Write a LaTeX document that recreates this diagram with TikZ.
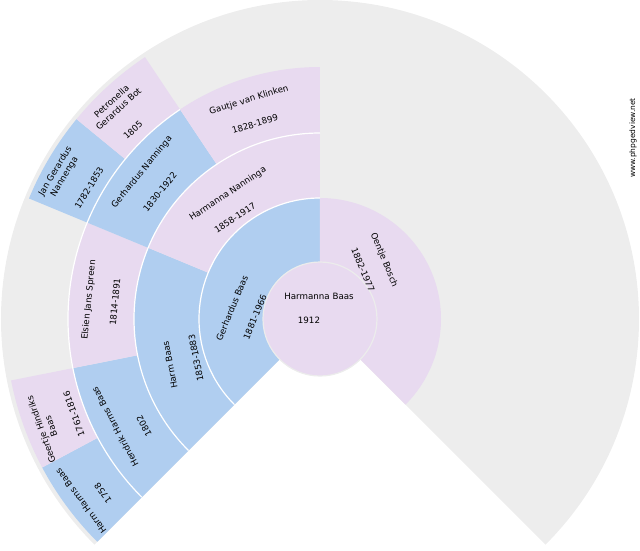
\documentclass[tikz,border=0pt]{standalone}
\usepackage{fontspec}
\setmainfont{DejaVu Sans}
\usepackage{tikz}

\definecolor{man}{HTML}{B0CEF0}
\definecolor{vrouw}{HTML}{E8DAF0}
\definecolor{leeg}{HTML}{EDEDED}

% hoek1, hoek2, r1, r2, kleur
\newcommand{\vak}[5]{%
  \fill[#5] (#1:#3) -- (#1:#4) arc[start angle=#1, end angle=#2, radius=#4]
    -- (#2:#3) arc[start angle=#2, end angle=#1, radius=#3] -- cycle;}

\begin{document}
\begin{tikzpicture}[x=1pt, y=1pt,
  naam/.style={font=\fontsize{8.7}{10.5}\selectfont, align=center, inner sep=0pt},
  klein/.style={font=\fontsize{7.5}{8}\selectfont, inner sep=0pt}]

\useasboundingbox (-320,-231) rectangle (320,319);

\fill[leeg] (0,0) -- (-45:319) arc[start angle=-45, end angle=225, radius=319] -- cycle; % achtergrond

% ouders
\vak{225}{90}{57}{121}{man}
\vak{90}{-45}{57}{121}{vrouw}
% grootouders
\vak{225}{157.5}{121}{186}{man}
\vak{157.5}{90}{121}{186}{vrouw}
% overgrootouders
\vak{225}{191.25}{186}{252}{man}
\vak{191.25}{157.5}{186}{252}{vrouw}
\vak{157.5}{123.75}{186}{252}{man}
\vak{123.75}{90}{186}{252}{vrouw}
% betovergrootouders
\vak{225}{208.125}{252}{315}{man}
\vak{208.125}{191.25}{252}{315}{vrouw}
\vak{157.5}{140.625}{252}{315}{man}
\vak{140.625}{123.75}{252}{315}{vrouw}

% lijnen tussen de ringen
\draw[white, line width=1.2pt] (225:121) arc[start angle=225, end angle=90, radius=121];
\draw[white, line width=1.2pt] (225:186) arc[start angle=225, end angle=90, radius=186];
\draw[white, line width=1.2pt] (225:252) arc[start angle=225, end angle=123.75, radius=252];

\filldraw[fill=vrouw, draw=white!85!gray, line width=1.2pt] (0,0) circle(57); % kind

\node[naam] (kind) at (-1,23) {Harmanna Baas};
\node[naam] (kindj) at (-11,-1) {1912};

\node[naam, rotate=67.5] (vader) at (-88,11) {Gerhardus Baas};
\node[naam, rotate=67.5] (vaderj) at (-65,2) {1881-1966};
\node[naam, rotate=-67.5] (moeder) at (64,59) {Oentje Bosch};
\node[naam, rotate=-67.5] (moederj) at (43,49) {1882-1977};

\node[naam, rotate=101.25] (vv) at (-150,-46) {Harm Baas};
\node[naam, rotate=101.25] (vvj) at (-124,-39) {1853-1883};
\node[naam, rotate=33.75] (vm) at (-92,125) {Harmanna Nanninga};
\node[naam, rotate=33.75] (vmj) at (-85,101) {1858-1917};

\node[naam, rotate=118.125] (vvv) at (-205,-108) {Hendrik Harms Baas};
\node[naam, rotate=118.125] (vvvj) at (-176,-107) {1802};
\node[naam, rotate=84.375] (vvm) at (-231,19) {Elsien Jans Spreen};
\node[naam, rotate=84.375] (vvmj) at (-205,17) {1814-1891};
\node[naam, rotate=50.625] (vmv) at (-178,147) {Gerhardus Nanninga};
\node[naam, rotate=50.625] (vmvj) at (-160,127) {1830-1922};
\node[naam, rotate=16.875] (vmm) at (-71,219) {Gautje van Klinken};
\node[naam, rotate=16.875] (vmmj) at (-65,195) {1828-1899};

\node[naam, rotate=126.5625] (vvvv) at (-239,-182) {Harm Harms Baas};
\node[naam, rotate=126.5625] (vvvvj) at (-217,-174) {1758};
\node[naam, rotate=109.6875] (vvvm) at (-274,-109) {Geertje Hindriks\\Baas};
\node[naam, rotate=109.6875] (vvvmj) at (-246,-95) {1761-1816};
\node[naam, rotate=59.0625] (vmvv) at (-260,145) {Jan Gerardus\\Nannenga};
\node[naam, rotate=59.0625] (vmvvj) at (-231,131) {1782-1853};
\node[naam, rotate=42.1875] (vmvm) at (-205,214) {Petronella\\Gerardus Bot};
\node[naam, rotate=42.1875] (vmvmj) at (-187,189) {1805};

\node[klein, rotate=90] (site) at (313,181) {www.phpgedview.net};

\end{tikzpicture}
\end{document}
